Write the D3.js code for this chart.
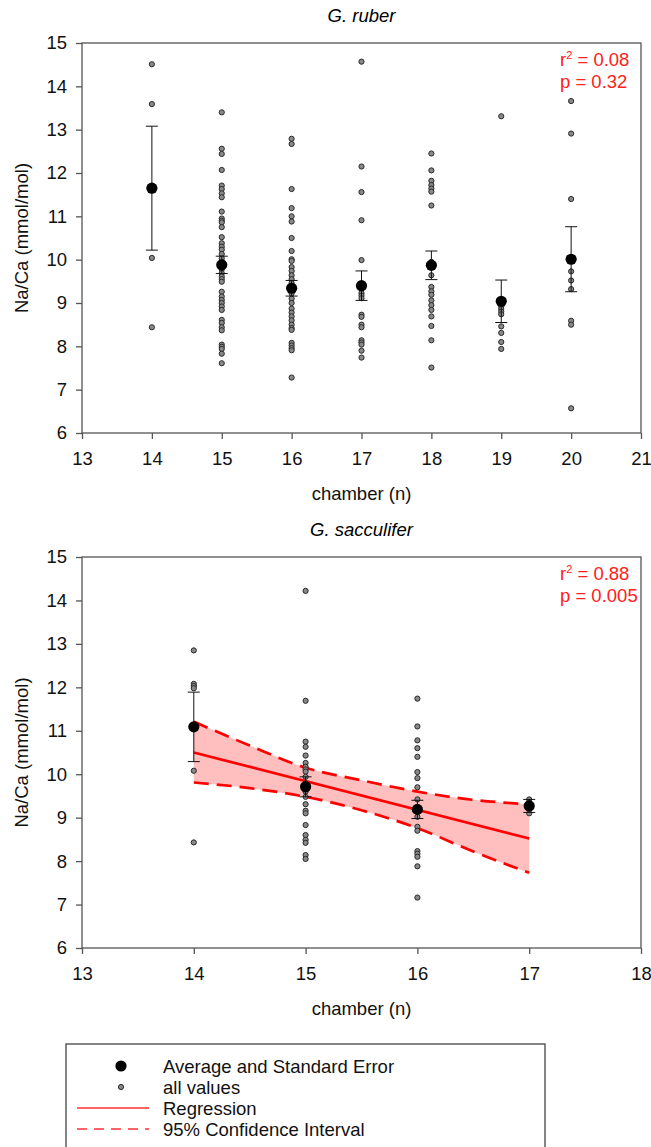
<!DOCTYPE html>
<meta charset="utf-8">
<style>
  body { margin: 0; background: #fff; }
  text { font-family: "Liberation Sans", Arial, sans-serif; }
</style>
<svg width="651" height="1147"></svg>
<script src="https://d3js.org/d3.v7.min.js"></script>
<script>

// ---- G. ruber ----
var rubChambers = [14, 15, 16, 17, 18, 19, 20];
var rubValues = [
  [14.51, 13.59, 10.04, 8.44],
  [13.40, 12.56, 12.44, 12.07, 11.71, 11.63, 11.53, 11.44, 11.11, 10.95, 10.90, 10.86, 10.75, 10.52,
   10.38, 10.30, 10.23, 10.13, 10.03, 9.94, 9.86, 9.78, 9.69, 9.61, 9.55, 9.49, 9.26, 9.15, 9.07,
   9.00, 8.92, 8.84, 8.61, 8.54, 8.44, 8.37, 8.04, 7.99, 7.94, 7.83, 7.61],
  [12.79, 12.67, 11.63, 11.19, 11.00, 10.88, 10.50, 10.20, 10.01, 9.97, 9.83, 9.74, 9.64, 9.55,
   9.46, 9.38, 9.30, 9.22, 9.10, 9.00, 8.87, 8.78, 8.69, 8.60, 8.50, 8.42, 8.38, 8.08, 8.02, 7.96,
   7.91, 7.28],
  [14.57, 12.15, 11.56, 10.91, 9.99, 9.23, 9.17, 9.11, 8.73, 8.68, 8.50, 8.44, 8.14, 8.09, 8.04,
   7.90, 7.74],
  [12.45, 12.06, 11.82, 11.72, 11.64, 11.57, 11.25, 9.95, 9.85, 9.64, 9.37, 9.27, 9.19, 9.06, 8.95,
   8.84, 8.69, 8.47, 8.14, 7.51],
  [13.31, 9.00, 8.92, 8.86, 8.80, 8.74, 8.46, 8.31, 8.10, 7.94],
  [13.66, 12.91, 11.40, 9.73, 9.52, 9.32, 8.59, 8.50, 6.57]
];
var rubMeans = [11.65, 9.88, 9.34, 9.40, 9.87, 9.04, 10.01];
var rubSE = [1.43, 0.20, 0.18, 0.34, 0.33, 0.49, 0.75];

// ---- G. sacculifer ----
var sacChambers = [14, 15, 16, 17];
var sacValues = [
  [12.85, 12.08, 12.03, 11.98, 10.08, 8.43],
  [14.22, 11.69, 10.75, 10.63, 10.43, 10.26, 10.17, 10.11, 10.06, 9.94, 9.79, 9.60, 9.48, 9.31,
   9.16, 9.10, 8.83, 8.60, 8.49, 8.42, 8.14, 8.05],
  [11.74, 11.10, 10.78, 10.60, 10.40, 10.05, 9.91, 9.70, 9.42, 9.02, 8.79, 8.70, 8.23, 8.17, 8.10,
   7.88, 7.16],
  [9.42, 9.35, 9.25, 9.10]
];
var sacMeans = [11.09, 9.71, 9.19, 9.27];
var sacSE = [0.80, 0.23, 0.21, 0.15];
var regX = [14, 17];
var regY = [10.50, 8.52];
var ciX = [14, 14.5, 15, 15.5, 16, 16.5, 17];
var ciUpper = [11.21, 10.66, 10.15, 9.86, 9.60, 9.41, 9.31];
var ciLower = [9.81, 9.68, 9.48, 9.17, 8.76, 8.22, 7.73];

var yTicks = [6, 7, 8, 9, 10, 11, 12, 13, 14, 15];

var svg = d3.select("svg");
var left = 82, right = 641;
var fs = 18.5;

function panel(o) {
  var g = svg.append("g");
  var x = d3.scaleLinear().domain(o.xDomain).range([left, right]);
  var y = d3.scaleLinear().domain([6, 15]).range([o.bottom, o.top]);

  // confidence band + regression
  if (o.ci) {
    var band = o.ci.x.map(function(d, i) { return {x: d, lo: o.ci.lo[i], hi: o.ci.hi[i]}; });
    g.append("path").datum(band)
      .attr("fill", "#ffbfbf")
      .attr("d", d3.area().curve(d3.curveMonotoneX)
        .x(function(d) { return x(d.x); })
        .y0(function(d) { return y(d.lo); })
        .y1(function(d) { return y(d.hi); }));
    ["lo", "hi"].forEach(function(k) {
      g.append("path").datum(band)
        .attr("fill", "none").attr("stroke", "#ff0000").attr("stroke-width", 2.7)
        .attr("stroke-dasharray", "15,8")
        .attr("d", d3.line().curve(d3.curveMonotoneX)
          .x(function(d) { return x(d.x); })
          .y(function(d) { return y(d[k]); }));
    });
    g.append("line")
      .attr("x1", x(o.reg.x[0])).attr("y1", y(o.reg.y[0]))
      .attr("x2", x(o.reg.x[1])).attr("y2", y(o.reg.y[1]))
      .attr("stroke", "#ff0000").attr("stroke-width", 2.7);
  }

  // all values
  var pts = [];
  o.chambers.forEach(function(c, i) {
    o.values[i].forEach(function(v) { pts.push({c: c, v: v}); });
  });
  g.selectAll("circle.pt").data(pts).enter().append("circle")
    .attr("class", "pt")
    .attr("cx", function(d) { return x(d.c); })
    .attr("cy", function(d) { return y(d.v); })
    .attr("r", 2.6)
    .attr("fill", "#888")
    .attr("stroke", "#2a2a2a").attr("stroke-width", 1);

  // error bars
  var stats = o.chambers.map(function(c, i) { return {c: c, m: o.means[i], se: o.se[i]}; });
  var eb = g.selectAll("g.eb").data(stats).enter().append("g").attr("class", "eb")
    .attr("stroke", "#111").attr("stroke-width", 1);
  eb.append("line")
    .attr("x1", function(d) { return x(d.c); }).attr("x2", function(d) { return x(d.c); })
    .attr("y1", function(d) { return y(d.m + d.se); }).attr("y2", function(d) { return y(d.m - d.se); });
  [1, -1].forEach(function(s) {
    eb.append("line")
      .attr("x1", function(d) { return x(d.c) - 6; }).attr("x2", function(d) { return x(d.c) + 6; })
      .attr("y1", function(d) { return y(d.m + s * d.se); }).attr("y2", function(d) { return y(d.m + s * d.se); });
  });
  g.selectAll("circle.mean").data(stats).enter().append("circle")
    .attr("class", "mean")
    .attr("cx", function(d) { return x(d.c); })
    .attr("cy", function(d) { return y(d.m); })
    .attr("r", 5.6).attr("fill", "#000");

  // frame + axes
  g.append("rect")
    .attr("x", left).attr("y", o.top)
    .attr("width", right - left).attr("height", o.bottom - o.top)
    .attr("fill", "none").attr("stroke", "#555").attr("stroke-width", 1.3);

  var ya = g.append("g").attr("transform", "translate(" + left + ",0)")
    .call(d3.axisLeft(y).tickValues(yTicks).tickSize(6).tickPadding(9).tickFormat(d3.format("d")));
  var xa = g.append("g").attr("transform", "translate(0," + o.bottom + ")")
    .call(d3.axisBottom(x).ticks(o.xDomain[1] - o.xDomain[0]).tickSize(6).tickPadding(13).tickFormat(d3.format("d")));
  [ya, xa].forEach(function(a) {
    a.select(".domain").remove();
    a.selectAll("line").attr("stroke", "#555").attr("stroke-width", 1.3);
    a.selectAll("text").attr("font-size", fs).attr("fill", "#111")
      .attr("font-family", "Liberation Sans, Arial, sans-serif");
  });

  g.append("text")
    .attr("x", (left + right) / 2).attr("y", o.top - 21)
    .attr("text-anchor", "middle").attr("font-size", fs).attr("font-style", "italic")
    .text(o.title);
  g.append("text")
    .attr("x", (left + right) / 2).attr("y", o.bottom + 67)
    .attr("text-anchor", "middle").attr("font-size", fs).attr("fill", "#111")
    .text("chamber (n)");
  g.append("text")
    .attr("transform", "translate(28," + (o.top + o.bottom) / 2 + ") rotate(-90)")
    .attr("text-anchor", "middle").attr("font-size", fs).attr("fill", "#111")
    .text("Na/Ca (mmol/mol)");

  var st = g.append("text").attr("fill", "#ff2020").attr("font-size", fs);
  st.append("tspan").attr("x", 560).attr("y", o.top + 22.5).text("r");
  st.append("tspan").attr("font-size", 11).attr("dy", -7).text("2");
  st.append("tspan").attr("dy", 7).text(" = " + o.r2);
  g.append("text").attr("fill", "#ff2020").attr("font-size", fs)
    .attr("x", 560).attr("y", o.top + 45).text("p = " + o.p);
}

panel({
  title: "G. ruber", xDomain: [13, 21], top: 43, bottom: 433,
  chambers: rubChambers, values: rubValues, means: rubMeans, se: rubSE,
  r2: "0.08", p: "0.32"
});

panel({
  title: "G. sacculifer", xDomain: [13, 18], top: 557, bottom: 948,
  chambers: sacChambers, values: sacValues, means: sacMeans, se: sacSE,
  r2: "0.88", p: "0.005",
  reg: {x: regX, y: regY},
  ci: {x: ciX, lo: ciLower, hi: ciUpper}
});

// legend
var lg = svg.append("g");
lg.append("rect").attr("x", 66).attr("y", 1044).attr("width", 479).attr("height", 130)
  .attr("fill", "#fff").attr("stroke", "#444").attr("stroke-width", 1.3);
var items = ["Average and Standard Error", "all values", "Regression", "95% Confidence Interval"];
items.forEach(function(t, i) {
  var yy = 1066 + i * 21;
  lg.append("text").attr("x", 163).attr("y", yy + 6.5).attr("font-size", fs).attr("fill", "#111").text(t);
  if (i === 0) lg.append("circle").attr("cx", 121).attr("cy", yy).attr("r", 5.6).attr("fill", "#000");
  if (i === 1) lg.append("circle").attr("cx", 121).attr("cy", yy).attr("r", 2.6)
    .attr("fill", "#888").attr("stroke", "#2a2a2a").attr("stroke-width", 1);
  if (i >= 2) lg.append("line").attr("x1", 77).attr("x2", 149).attr("y1", yy).attr("y2", yy)
    .attr("stroke", "#ff3030").attr("stroke-width", 1.5)
    .attr("stroke-dasharray", i === 3 ? "10,7" : null);
});

</script>
